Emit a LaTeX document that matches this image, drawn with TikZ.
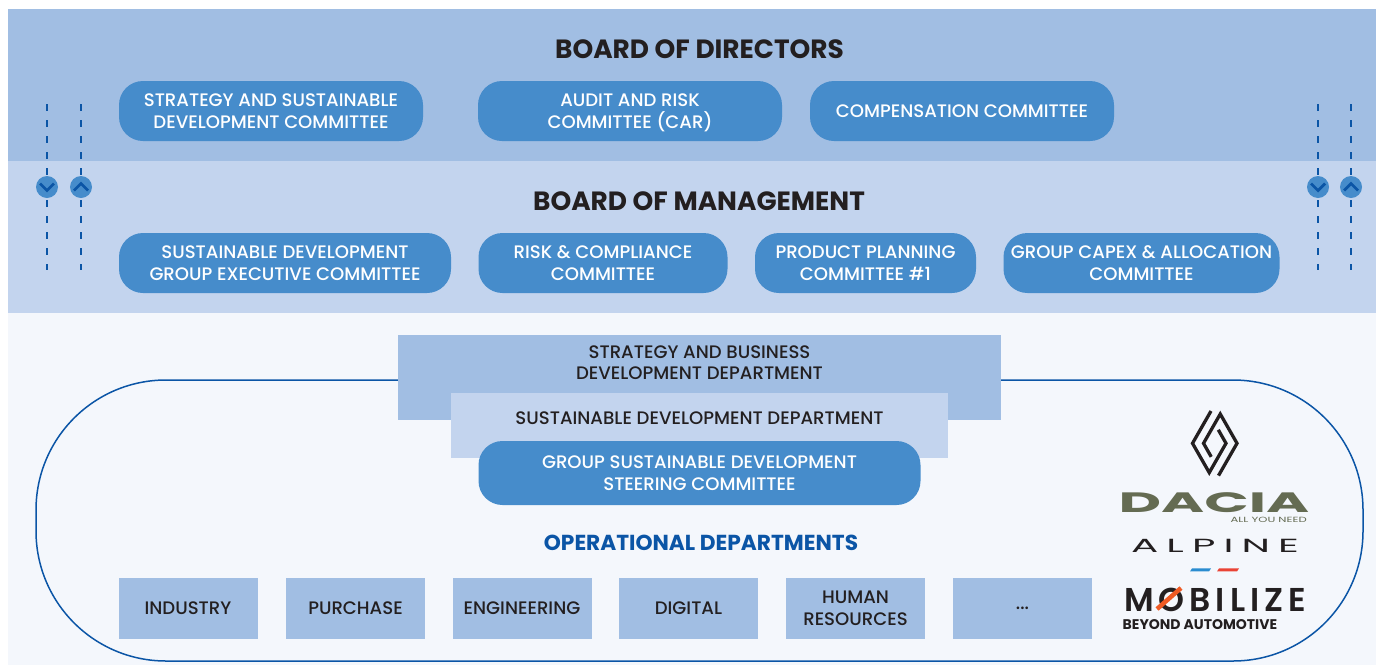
\documentclass[tikz,border=0pt]{standalone}
\usepackage{fontspec}
\setmainfont{Poppins}
\newfontfamily\medf{Poppins Medium}
\newfontfamily\wide[LetterSpace=20]{Poppins}
\newfontfamily\mobf[LetterSpace=15]{Poppins SemiBold}
\definecolor{bandA}{HTML}{A1BEE3}
\definecolor{bandB}{HTML}{C3D4EE}
\definecolor{paper}{HTML}{F4F7FC}
\definecolor{pill}{HTML}{468CCB}
\definecolor{navy}{HTML}{0B55A6}
\definecolor{ink}{HTML}{231F20}
\definecolor{olive}{HTML}{646B52}
\definecolor{stripeB}{HTML}{2A8CD0}
\definecolor{stripeR}{HTML}{EA4335}
\definecolor{slash}{HTML}{EE5A24}
\tikzset{
  x=1pt,y=-1pt,
  pillbox/.style={fill=pill,rounded corners=24pt,text=white,align=center,inner sep=0pt,font=\medf\fontsize{18.1}{22}\selectfont},
  deptbox/.style={fill=bandA,text=ink,align=center,inner sep=0pt,font=\medf\fontsize{18.1}{22}\selectfont},
  depttext/.style={text=ink,align=center,inner sep=0pt,font=\medf\fontsize{18.1}{21}\selectfont},
  title/.style={text=ink,font=\bfseries\fontsize{26.4}{28}\selectfont,inner sep=0pt},
  dashline/.style={navy,line width=1.7pt,dash pattern=on 7pt off 9pt},
  round/.style={circle,fill=pill,minimum size=22pt,inner sep=0pt},
  chev/.style={navy,line width=2.8pt,line cap=butt,line join=miter}
}
\begin{document}
\begin{tikzpicture}
\useasboundingbox (0,0) rectangle (1376,665);
\fill[white] (0,0) rectangle (1376,665);
\fill[paper] (8,313) rectangle (1376,665);
\fill[bandA] (8,9) rectangle (1376,161);
\fill[bandB] (8,161) rectangle (1376,313);

% dashed lines and round buttons
\foreach \n/\xx in {a/47,b/81,c/1318,d/1351}{
  \coordinate (top\n) at (\xx,104);
  \coordinate (bot\n) at (\xx,270);
  \draw[dashline] (top\n) -- (bot\n);
  \node[round] (btn\n) at (\xx,187) {};
}
\foreach \n in {a,c}{\draw[chev] ([shift={(-7,-3.5)}]btn\n.center) -- ([shift={(0,3.5)}]btn\n.center) -- ([shift={(7,-3.5)}]btn\n.center);}
\foreach \n in {b,d}{\draw[chev] ([shift={(-7,3.5)}]btn\n.center) -- ([shift={(0,-3.5)}]btn\n.center) -- ([shift={(7,3.5)}]btn\n.center);}

\node[title] (bod) at (699.5,49.5) {BOARD OF DIRECTORS};
\node[title] (bom) at (699,201.5) {BOARD OF MANAGEMENT};

\node[pillbox,minimum width=304pt,minimum height=60pt] (p1) at (271,111) {STRATEGY AND SUSTAINABLE\\DEVELOPMENT COMMITTEE};
\node[pillbox,minimum width=304pt,minimum height=60pt] (p2) at (630,111) {AUDIT AND RISK\\COMMITTEE \smash{(CAR)}};
\node[pillbox,minimum width=304pt,minimum height=60pt] (p3) at (962,111) {COMPENSATION COMMITTEE};

\node[pillbox,minimum width=332pt,minimum height=60pt] (m1) at (285,263) {SUSTAINABLE DEVELOPMENT\\GROUP EXECUTIVE COMMITTEE};
\node[pillbox,minimum width=249pt,minimum height=60pt] (m2) at (603,263) {RISK \& COMPLIANCE\\COMMITTEE};
\node[pillbox,minimum width=221pt,minimum height=60pt] (m3) at (865.5,263) {PRODUCT PLANNING\\COMMITTEE \#1};
\node[pillbox,minimum width=276pt,minimum height=60pt] (m4) at (1141.5,263) {GROUP CAPEX \& ALLOCATION\\COMMITTEE};

% outline
\draw[navy,line width=1.5pt,rounded corners=130pt] (700,380) -- (36,380) -- (36,661) -- (1363,661) -- (1363,380) -- cycle;

\node[deptbox,minimum width=603pt,minimum height=85pt] (s1) at (699.5,377.5) {};
\node[depttext] (s1t) at (699.5,362.5) {STRATEGY AND BUSINESS\\DEVELOPMENT DEPARTMENT};
\node[deptbox,fill=bandB,minimum width=497pt,minimum height=65pt] (s2) at (699.5,425.5) {};
\node[depttext] (s2t) at (699.5,418.5) {SUSTAINABLE DEVELOPMENT DEPARTMENT};
\node[pillbox,minimum width=442pt,minimum height=64pt] (s3) at (699.5,473) {GROUP SUSTAINABLE DEVELOPMENT\\STEERING COMMITTEE};

\node[text=navy,inner sep=0pt,font=\bfseries\fontsize{21.7}{24}\selectfont] (op) at (701,542.5) {OPERATIONAL DEPARTMENTS};

\node[deptbox,minimum width=139pt,minimum height=61pt] (d1) at (188,608.5) {INDUSTRY};
\node[deptbox,minimum width=139pt,minimum height=61pt] (d2) at (355.5,608.5) {PURCHASE};
\node[deptbox,minimum width=139pt,minimum height=61pt] (d3) at (522,608.5) {ENGINEERING};
\node[deptbox,minimum width=139pt,minimum height=61pt] (d4) at (688.5,608.5) {DIGITAL};
\node[deptbox,minimum width=139pt,minimum height=61pt] (d5) at (855.5,608.5) {HUMAN\\RESOURCES};
\node[deptbox,minimum width=139pt,minimum height=61pt] (d6) at (1022.5,608.5) {...};

% Renault mark
\begin{scope}[ink,line width=3.3pt,line join=miter,line cap=butt]
\draw (1211,411) -- (1192.5,443.3) -- (1209.25,472.6) -- (1226,443.3) -- (1218.3,429.8);
\draw (1218.5,475.6) -- (1237,443.3) -- (1220.25,414) -- (1203.5,443.3) -- (1211.2,456.8);
\end{scope}
% Dacia
\node[text=olive,inner sep=0pt,font=\bfseries\fontsize{28}{28}\selectfont] (dacia) at (1214,503) {\scalebox{2.09}[1]{DACIA}};
\node[text=olive,inner sep=0pt,anchor=east,font=\fontsize{7.5}{8}\selectfont] (aun) at (1307,520) {\scalebox{1.55}[1]{ALL YOU NEED}};
% Alpine
\node[text=ink,inner sep=0pt,font=\wide\fontsize{19}{22}\selectfont] (alp) at (1215,546) {\scalebox{2.13}[1]{ALPINE}};
\fill[stripeB] (1192,568.4) -- (1211,568.4) -- (1209,571.4) -- (1190,571.4) -- cycle;
\fill[stripeR] (1219,568.4) -- (1239,568.4) -- (1237,571.4) -- (1217,571.4) -- cycle;
% Mobilize
\node[text=ink,inner sep=0pt,font=\mobf\fontsize{33}{36}\selectfont] (mob) at (1215,600) {MOBILIZE};
\draw[line width=4.5pt,color=slash] (1157,609) -- (1181,588);
\node[text=ink,inner sep=0pt,anchor=west,font=\bfseries\fontsize{14}{15}\selectfont] (bey) at (1122.5,624.5) {BEYOND AUTOMOTIVE};
\end{tikzpicture}
\end{document}
